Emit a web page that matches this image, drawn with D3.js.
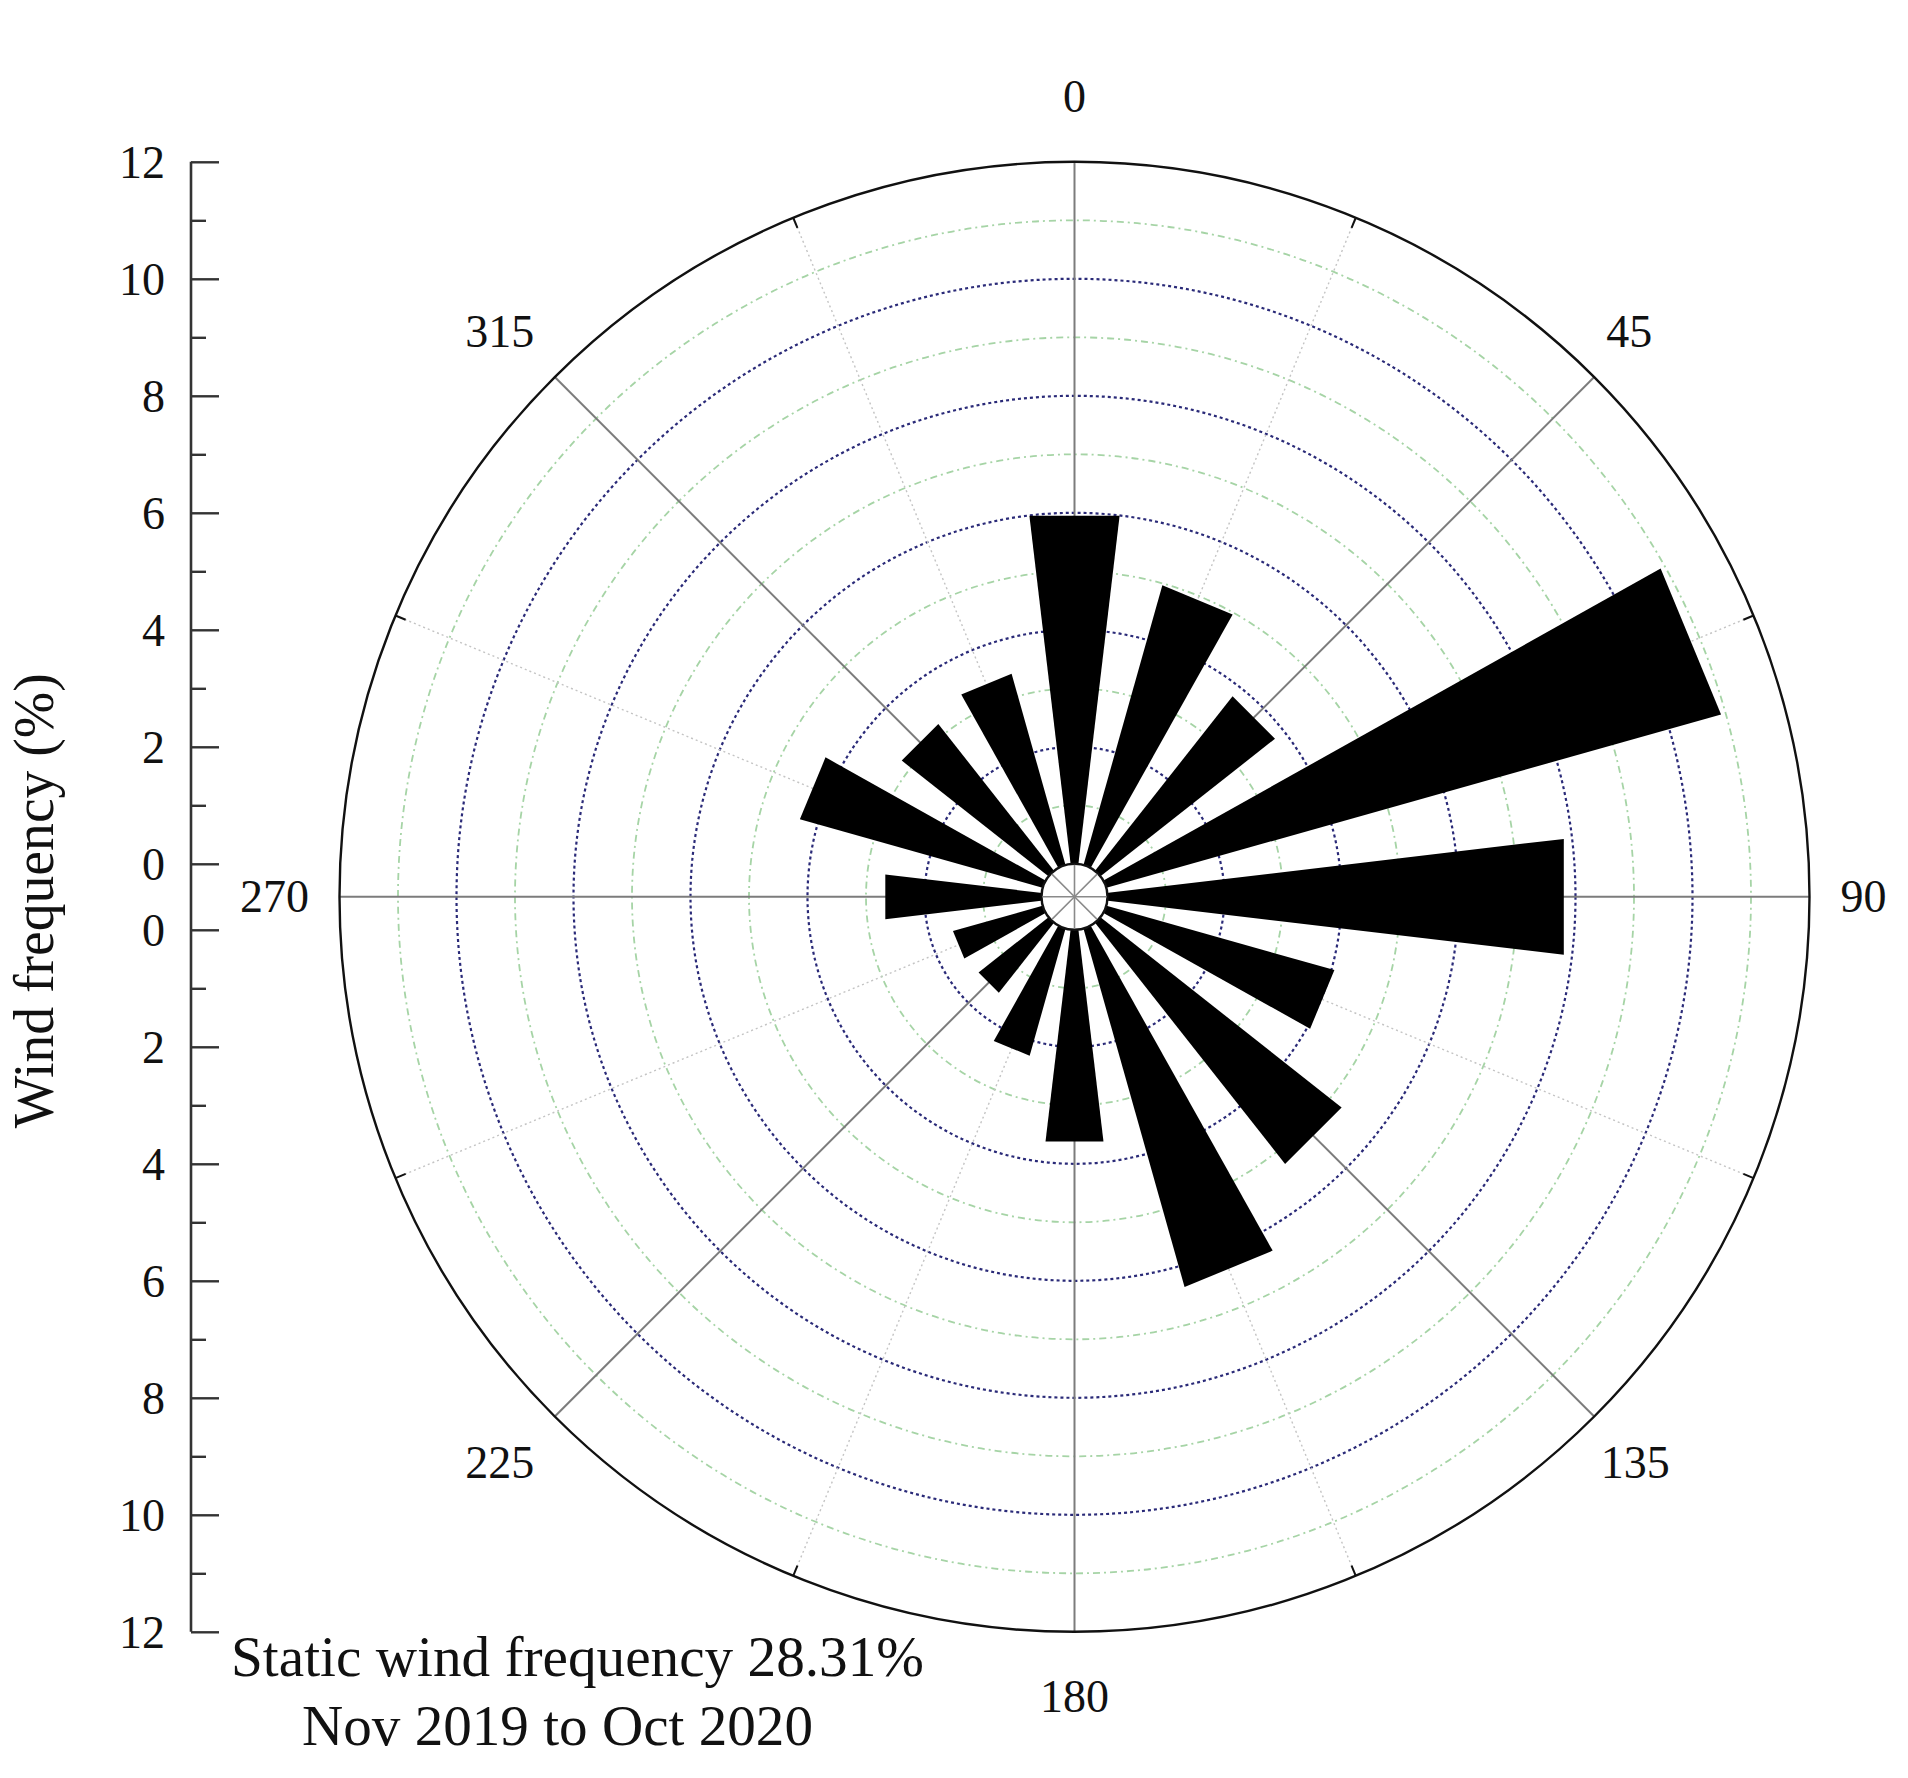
<!DOCTYPE html>
<html>
<head>
<meta charset="utf-8">
<script src="https://cdn.jsdelivr.net/npm/d3@7"></script>
<style>
  html, body { margin: 0; padding: 0; background: #fff; }
  text { font-family: "Liberation Serif", "Times New Roman", serif; fill: #111; }
</style>
</head>
<body>
<svg id="chart" width="1908" height="1778"></svg>
<script>
// ---- data ----
const directions = [0, 22.5, 45, 67.5, 90, 112.5, 135, 157.5, 180, 202.5, 225, 247.5, 270, 292.5, 315, 337.5];
const frequencies = [5.95, 4.93, 3.77, 10.84, 7.8, 4.02, 5.21, 6.32, 3.62, 2.24, 1.51, 1.58, 2.67, 4.28, 3.17, 3.37];
const angleLabels = ["0", "45", "90", "135", "180", "225", "270", "315"];
const angleLabelValues = [0, 45, 90, 135, 180, 225, 270, 315];
const minorAngles = [22.5, 67.5, 112.5, 157.5, 202.5, 247.5, 292.5, 337.5];
const radialTicks = [0, 2, 4, 6, 8, 10, 12];
const radialMinor = [1, 3, 5, 7, 9, 11];
const gridValues = [1, 2, 3, 4, 5, 6, 7, 8, 9, 10, 11];
const yLabel = "Wind frequency (%)";
const noteLines = ["Static wind frequency 28.31%", "Nov 2019 to Oct 2020"];

// ---- layout ----
const svg = d3.select("#chart");
svg.append("rect").attr("width", 1908).attr("height", 1778).attr("fill", "#fff");
const cx = 1074.5, cy = 896.8;
const r = d3.scaleLinear().domain([0, 12]).range([33, 735]);
const ang = d3.scaleLinear().domain([0, 360]).range([0, 2 * Math.PI]);
const pt = (deg, rho) => [cx + rho * Math.sin(ang(deg)), cy - rho * Math.cos(ang(deg))];
const barWidthDeg = 22.5 * 0.6;
const labelShift = { 0: 0, 45: -11, 90: -11, 135: -5, 180: 0, 225: -9, 270: 0, 315: -9 };

const g = svg.append("g");

// grid circles
g.selectAll("circle.grid").data(gridValues).join("circle")
  .attr("cx", cx).attr("cy", cy).attr("r", d => r(d))
  .attr("fill", "none")
  .attr("stroke", d => d % 2 === 0 ? "#2a2a78" : "#a6d4a6")
  .attr("stroke-width", d => d % 2 === 0 ? 2.2 : 1.8)
  .attr("stroke-dasharray", d => d % 2 === 0 ? "3,3" : "7,4,2,4");

// light dotted radial lines
g.selectAll("line.minor").data(minorAngles).join("line")
  .attr("x1", d => pt(d, r(0))[0]).attr("y1", d => pt(d, r(0))[1])
  .attr("x2", d => pt(d, r(12))[0]).attr("y2", d => pt(d, r(12))[1])
  .attr("stroke", "#c4c4c4").attr("stroke-width", 1.4).attr("stroke-dasharray", "2,3");

// solid radial lines
g.selectAll("line.major").data(angleLabelValues).join("line")
  .attr("x1", cx).attr("y1", cy)
  .attr("x2", d => pt(d, r(12))[0]).attr("y2", d => pt(d, r(12))[1])
  .attr("stroke", "#7c7c7c").attr("stroke-width", 2);

// outer circle
g.append("circle").attr("cx", cx).attr("cy", cy).attr("r", r(12))
  .attr("fill", "none").attr("stroke", "#111").attr("stroke-width", 2.4);

// outer minor ticks
g.selectAll("line.otick").data(minorAngles).join("line")
  .attr("x1", d => pt(d, r(12))[0]).attr("y1", d => pt(d, r(12))[1])
  .attr("x2", d => pt(d, r(12) - 11)[0]).attr("y2", d => pt(d, r(12) - 11)[1])
  .attr("stroke", "#111").attr("stroke-width", 2);

// bars (flat-ended wedges)
const half = barWidthDeg / 2;
g.selectAll("path.bar").data(directions.map((d, i) => ({ dir: d, v: frequencies[i] }))).join("path")
  .attr("d", d => {
    const ro = r(d.v) / Math.cos(ang(half));
    const pts = [pt(d.dir - half, 2), pt(d.dir - half, ro), pt(d.dir + half, ro), pt(d.dir + half, 2)];
    return "M" + pts.map(p => p.join(",")).join("L") + "Z";
  })
  .attr("fill", "#000");

// central hole
g.append("circle").attr("cx", cx).attr("cy", cy).attr("r", r(0))
  .attr("fill", "#fff").attr("stroke", "#111").attr("stroke-width", 2.4);
g.selectAll("line.hole").data(angleLabelValues).join("line")
  .attr("x1", cx).attr("y1", cy)
  .attr("x2", d => pt(d, r(0) - 1)[0]).attr("y2", d => pt(d, r(0) - 1)[1])
  .attr("stroke", "#8a8a8a").attr("stroke-width", 1.6);

// angle labels
g.selectAll("text.alab").data(angleLabelValues).join("text")
  .attr("x", d => pt(d, 800)[0] + labelShift[d]).attr("y", d => pt(d, 800)[1])
  .attr("text-anchor", "middle").attr("dominant-baseline", "central")
  .attr("font-size", 46)
  .text((d, i) => angleLabels[i]);

// left radial axis (mirrored)
const axisX = 191;
const yUp = d3.scaleLinear().domain([0, 12]).range([cy - r(0), cy - r(12)]);
const yDown = d3.scaleLinear().domain([0, 12]).range([cy + r(0), cy + r(12)]);
g.append("line").attr("x1", axisX).attr("x2", axisX)
  .attr("y1", yUp(12)).attr("y2", yDown(12))
  .attr("stroke", "#333").attr("stroke-width", 2.6);
[yUp, yDown].forEach(sc => {
  const ax = g.append("g").attr("transform", `translate(${axisX},0)`)
    .call(d3.axisRight(sc).tickValues(radialTicks).tickSize(28).tickSizeOuter(0).tickFormat(d3.format("d")));
  ax.select(".domain").remove();
  ax.selectAll(".tick line").attr("stroke", "#333").attr("stroke-width", 2.4);
  ax.selectAll(".tick text").attr("x", -26).attr("dy", "0.34em").attr("text-anchor", "end")
    .attr("font-size", 46).attr("font-family", "Liberation Serif, Times New Roman, serif").attr("fill", "#111");
  const axm = g.append("g").attr("transform", `translate(${axisX},0)`)
    .call(d3.axisRight(sc).tickValues(radialMinor).tickSize(15).tickSizeOuter(0).tickFormat(""));
  axm.select(".domain").remove();
  axm.selectAll(".tick line").attr("stroke", "#333").attr("stroke-width", 2.4);
});

// y label
svg.append("text")
  .attr("transform", `translate(53,${cy + 4}) rotate(-90)`)
  .attr("text-anchor", "middle")
  .attr("font-size", 56)
  .attr("textLength", 455).attr("lengthAdjust", "spacingAndGlyphs")
  .text(yLabel);

// notes
svg.append("text").attr("x", 231).attr("y", 1676).attr("font-size", 57)
  .attr("textLength", 693).attr("lengthAdjust", "spacingAndGlyphs").text(noteLines[0]);
svg.append("text").attr("x", 302).attr("y", 1745).attr("font-size", 57)
  .attr("textLength", 511).attr("lengthAdjust", "spacingAndGlyphs").text(noteLines[1]);
</script>
</body>
</html>
